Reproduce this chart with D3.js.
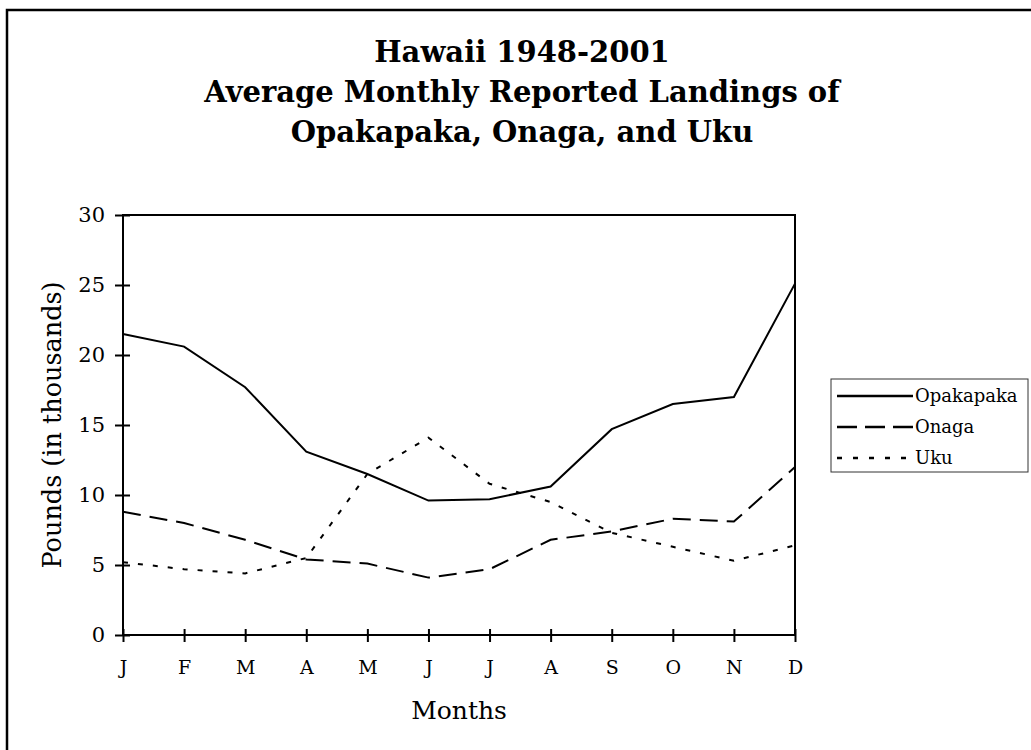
<!DOCTYPE html>
<html>
<head>
<meta charset="utf-8">
<script src="https://cdn.jsdelivr.net/npm/d3@7"></script>
<style>
  body { margin: 0; background: white; }
  svg { display: block; font-family: "DejaVu Serif", serif; }
</style>
</head>
<body>
<svg id="chart" width="1031" height="750"></svg>
<script>
// data
const months = ["J", "F", "M", "A", "M", "J", "J", "A", "S", "O", "N", "D"];
const opakapaka = [21.5, 20.6, 17.7, 13.1, 11.5, 9.6, 9.7, 10.6, 14.7, 16.5, 17.0, 25.1];
const onaga = [8.8, 8.0, 6.8, 5.4, 5.1, 4.1, 4.7, 6.8, 7.4, 8.3, 8.1, 12.0];
const uku = [5.2, 4.7, 4.4, 5.5, 11.5, 14.1, 10.8, 9.5, 7.3, 6.3, 5.3, 6.4];
const yTicks = [0, 5, 10, 15, 20, 25, 30];
const titleLines = ["Hawaii 1948-2001", "Average Monthly Reported Landings of", "Opakapaka, Onaga, and Uku"];

const series = [
  {name: "Opakapaka", values: opakapaka, dash: null, legendDash: null},
  {name: "Onaga", values: onaga, dash: "18,9", legendDash: "20,8"},
  {name: "Uku", values: uku, dash: "5,10", legendDash: "5,11"}
];

const svg = d3.select("#chart");
const plot = {left: 123, right: 795, top: 215, bottom: 635};

// outer frame (runs off the right and bottom of the picture)
svg.append("rect")
  .attr("x", 7).attr("y", 10)
  .attr("width", 1040).attr("height", 760)
  .attr("fill", "none").attr("stroke", "black").attr("stroke-width", 2.5);

// title
svg.append("g").selectAll("text")
  .data(titleLines)
  .enter().append("text")
    .attr("x", 522)
    .attr("y", (d, i) => 62 + i * 40)
    .attr("text-anchor", "middle")
    .style("font-size", "29px")
    .style("font-weight", "bold")
    .text(d => d);

const x = d3.scalePoint().domain(d3.range(months.length)).range([plot.left, plot.right]);
const y = d3.scaleLinear().domain([0, 30]).range([plot.bottom, plot.top]);

// plot area border
svg.append("rect")
  .attr("x", plot.left).attr("y", plot.top)
  .attr("width", plot.right - plot.left).attr("height", plot.bottom - plot.top)
  .attr("fill", "none").attr("stroke", "black").attr("stroke-width", 2);

// y axis, cross ticks
const yAxis = svg.append("g")
  .attr("transform", `translate(${plot.left},0)`)
  .call(d3.axisLeft(y).tickValues(yTicks).tickSize(8));
yAxis.select(".domain").remove();
yAxis.selectAll(".tick line").attr("x1", 7).attr("x2", -8).attr("stroke-width", 2);
yAxis.selectAll(".tick text")
  .style("font-size", "21px").style("font-family", "DejaVu Serif, serif").attr("x", -18);

// x axis, cross ticks
const xAxis = svg.append("g")
  .attr("transform", `translate(0,${plot.bottom})`)
  .call(d3.axisBottom(x).tickFormat(i => months[i]).tickSize(7));
xAxis.select(".domain").remove();
xAxis.selectAll(".tick line").attr("y1", -6).attr("y2", 7).attr("stroke-width", 2);
xAxis.selectAll(".tick text")
  .attr("y", 25.5)
  .style("font-size", "19px").style("font-family", "DejaVu Serif, serif");

// axis titles
svg.append("text")
  .attr("transform", `translate(61,${(plot.top + plot.bottom) / 2}) rotate(-90)`)
  .attr("text-anchor", "middle")
  .style("font-size", "25.5px")
  .text("Pounds (in thousands)");

svg.append("text")
  .attr("x", (plot.left + plot.right) / 2).attr("y", 719)
  .attr("text-anchor", "middle")
  .style("font-size", "25px")
  .text("Months");

// lines
const line = d3.line().x((d, i) => x(i)).y(d => y(d));
svg.append("g").selectAll("path")
  .data(series)
  .enter().append("path")
    .attr("d", d => line(d.values))
    .attr("fill", "none")
    .attr("stroke", "black")
    .attr("stroke-width", 2)
    .attr("stroke-dasharray", d => d.dash);

// legend
const legend = svg.append("g");
legend.append("rect")
  .attr("x", 831).attr("y", 379).attr("width", 197).attr("height", 93)
  .attr("fill", "white").attr("stroke", "#333").attr("stroke-width", 1);
const item = legend.selectAll("g.item")
  .data(series)
  .enter().append("g")
    .attr("class", "item")
    .attr("transform", (d, i) => `translate(0,${396 + i * 31})`);
item.append("line")
  .attr("x1", 837).attr("x2", 913)
  .attr("stroke", "black").attr("stroke-width", 2.5)
  .attr("stroke-dasharray", d => d.legendDash);
item.append("text")
  .attr("x", 915).attr("dy", "0.35em")
  .style("font-size", "18px")
  .text(d => d.name);
</script>
</body>
</html>
